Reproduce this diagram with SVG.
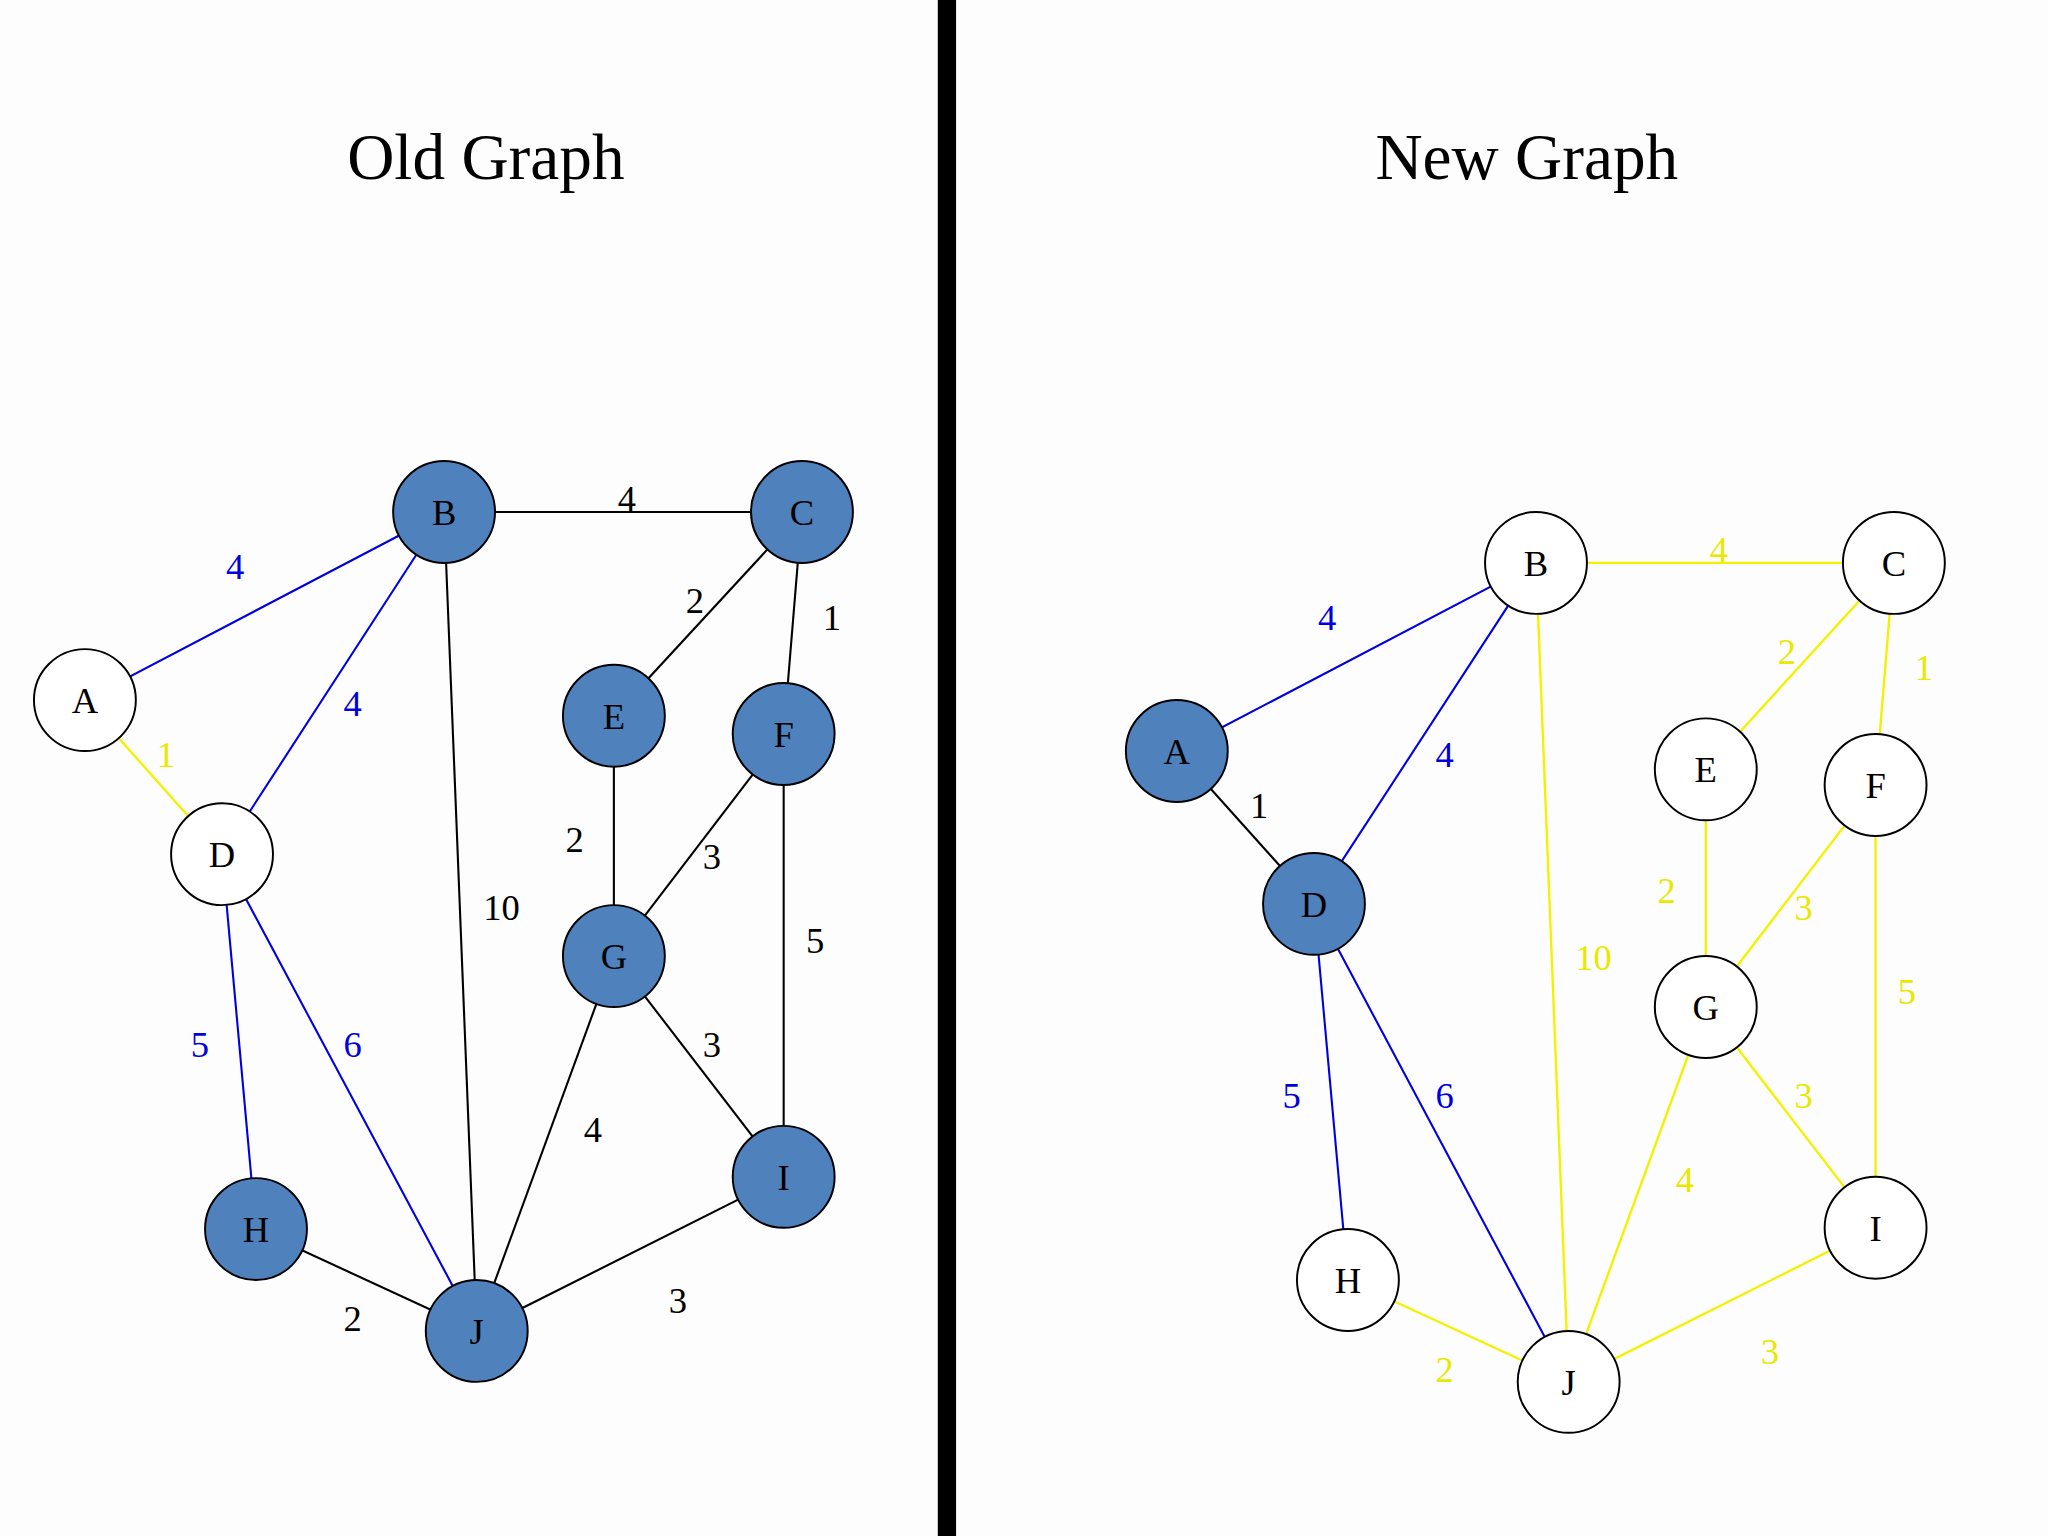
<svg xmlns="http://www.w3.org/2000/svg" width="2048" height="1536" viewBox="0 0 2048 1536">
<style>
text{font-family:"Liberation Serif","Times New Roman",serif;text-anchor:middle}
.t{font-size:50px}
.l{font-size:28px}
.n{font-size:28px}
.k{stroke:#000;stroke-width:1.6}
.b{stroke:#0000dd;stroke-width:1.6}
.y{stroke:#f2f200;stroke-width:1.8}
.lb{fill:#0000dd}.ly{fill:#e8e800}.lk{fill:#000}
.w circle{fill:#fff;stroke:#000;stroke-width:1.5}
.f circle{fill:#4f81bd;stroke:#000;stroke-width:1.5}
</style>
<rect width="2048" height="1536" fill="#fdfdfd"/>
<g transform="scale(1.30612)">
<rect x="718" y="0" width="14" height="1176" fill="#000"/>
<text class="t" x="372" y="137">Old Graph</text>
<text class="t" x="1169" y="137">New Graph</text>
<g id="connectors">
<line class="b" x1="65" y1="536" x2="340" y2="392"/>
<line class="y" x1="65" y1="536" x2="170" y2="654"/>
<line class="b" x1="340" y1="392" x2="170" y2="654"/>
<line class="k" x1="340" y1="392" x2="614" y2="392"/>
<line class="k" x1="340" y1="392" x2="365" y2="1019"/>
<line class="k" x1="614" y1="392" x2="470" y2="548"/>
<line class="k" x1="614" y1="392" x2="600" y2="562"/>
<line class="k" x1="470" y1="548" x2="470" y2="732"/>
<line class="k" x1="600" y1="562" x2="470" y2="732"/>
<line class="k" x1="600" y1="562" x2="600" y2="901"/>
<line class="k" x1="470" y1="732" x2="600" y2="901"/>
<line class="k" x1="470" y1="732" x2="365" y2="1019"/>
<line class="k" x1="600" y1="901" x2="365" y2="1019"/>
<line class="k" x1="196" y1="941" x2="365" y2="1019"/>
<line class="b" x1="170" y1="654" x2="196" y2="941"/>
<line class="b" x1="170" y1="654" x2="365" y2="1019"/>

<line class="b" x1="901" y1="575" x2="1176" y2="431"/>
<line class="k" x1="901" y1="575" x2="1006" y2="692"/>
<line class="b" x1="1176" y1="431" x2="1006" y2="692"/>
<line class="y" x1="1176" y1="431" x2="1450" y2="431"/>
<line class="y" x1="1176" y1="431" x2="1201" y2="1058"/>
<line class="y" x1="1450" y1="431" x2="1306" y2="589"/>
<line class="y" x1="1450" y1="431" x2="1436" y2="601"/>
<line class="y" x1="1306" y1="589" x2="1306" y2="771"/>
<line class="y" x1="1436" y1="601" x2="1306" y2="771"/>
<line class="y" x1="1436" y1="601" x2="1436" y2="940"/>
<line class="y" x1="1306" y1="771" x2="1436" y2="940"/>
<line class="y" x1="1306" y1="771" x2="1201" y2="1058"/>
<line class="y" x1="1436" y1="940" x2="1201" y2="1058"/>
<line class="y" x1="1032" y1="980" x2="1201" y2="1058"/>
<line class="b" x1="1006" y1="692" x2="1032" y2="980"/>
<line class="b" x1="1006" y1="692" x2="1201" y2="1058"/>
</g>
<g id="labels" class="l">
<text class="lb" x="180" y="443">4</text>
<text class="ly" x="127" y="587">1</text>
<text class="lb" x="270" y="548">4</text>
<text class="lk" x="480" y="391">4</text>
<text class="lk" x="384" y="704">10</text>
<text class="lk" x="532" y="469">2</text>
<text class="lk" x="637" y="482">1</text>
<text class="lk" x="440" y="652">2</text>
<text class="lk" x="545" y="665">3</text>
<text class="lk" x="624" y="730">5</text>
<text class="lk" x="545" y="809">3</text>
<text class="lk" x="454" y="874">4</text>
<text class="lk" x="519" y="1005">3</text>
<text class="lk" x="270" y="1019">2</text>
<text class="lb" x="153" y="809">5</text>
<text class="lb" x="270" y="809">6</text>

<text class="lb" x="1016" y="482">4</text>
<text class="lk" x="964" y="626">1</text>
<text class="lb" x="1106" y="587">4</text>
<text class="ly" x="1316" y="430">4</text>
<text class="ly" x="1220" y="743">10</text>
<text class="ly" x="1368" y="508">2</text>
<text class="ly" x="1473" y="521">1</text>
<text class="ly" x="1276" y="691">2</text>
<text class="ly" x="1381" y="704">3</text>
<text class="ly" x="1460" y="769">5</text>
<text class="ly" x="1381" y="848">3</text>
<text class="ly" x="1290" y="913">4</text>
<text class="ly" x="1355" y="1044">3</text>
<text class="ly" x="1106" y="1058">2</text>
<text class="lb" x="989" y="848">5</text>
<text class="lb" x="1106" y="848">6</text>
</g>
<g id="oA" class="w"><circle cx="65" cy="536" r="39"/><text class="n" x="65" y="546">A</text></g>
<g id="oB" class="f"><circle cx="340" cy="392" r="39"/><text class="n" x="340" y="402">B</text></g>
<g id="oC" class="f"><circle cx="614" cy="392" r="39"/><text class="n" x="614" y="402">C</text></g>
<g id="oD" class="w"><circle cx="170" cy="654" r="39"/><text class="n" x="170" y="664">D</text></g>
<g id="oE" class="f"><circle cx="470" cy="548" r="39"/><text class="n" x="470" y="558">E</text></g>
<g id="oF" class="f"><circle cx="600" cy="562" r="39"/><text class="n" x="600" y="572">F</text></g>
<g id="oG" class="f"><circle cx="470" cy="732" r="39"/><text class="n" x="470" y="742">G</text></g>
<g id="oH" class="f"><circle cx="196" cy="941" r="39"/><text class="n" x="196" y="951">H</text></g>
<g id="oI" class="f"><circle cx="600" cy="901" r="39"/><text class="n" x="600" y="911">I</text></g>
<g id="oJ" class="f"><circle cx="365" cy="1019" r="39"/><text class="n" x="365" y="1029">J</text></g>

<g id="nA" class="f"><circle cx="901" cy="575" r="39"/><text class="n" x="901" y="585">A</text></g>
<g id="nB" class="w"><circle cx="1176" cy="431" r="39"/><text class="n" x="1176" y="441">B</text></g>
<g id="nC" class="w"><circle cx="1450" cy="431" r="39"/><text class="n" x="1450" y="441">C</text></g>
<g id="nD" class="f"><circle cx="1006" cy="692" r="39"/><text class="n" x="1006" y="702">D</text></g>
<g id="nE" class="w"><circle cx="1306" cy="589" r="39"/><text class="n" x="1306" y="599">E</text></g>
<g id="nF" class="w"><circle cx="1436" cy="601" r="39"/><text class="n" x="1436" y="611">F</text></g>
<g id="nG" class="w"><circle cx="1306" cy="771" r="39"/><text class="n" x="1306" y="781">G</text></g>
<g id="nH" class="w"><circle cx="1032" cy="980" r="39"/><text class="n" x="1032" y="990">H</text></g>
<g id="nI" class="w"><circle cx="1436" cy="940" r="39"/><text class="n" x="1436" y="950">I</text></g>
<g id="nJ" class="w"><circle cx="1201" cy="1058" r="39"/><text class="n" x="1201" y="1068">J</text></g>
</g>
</svg>
